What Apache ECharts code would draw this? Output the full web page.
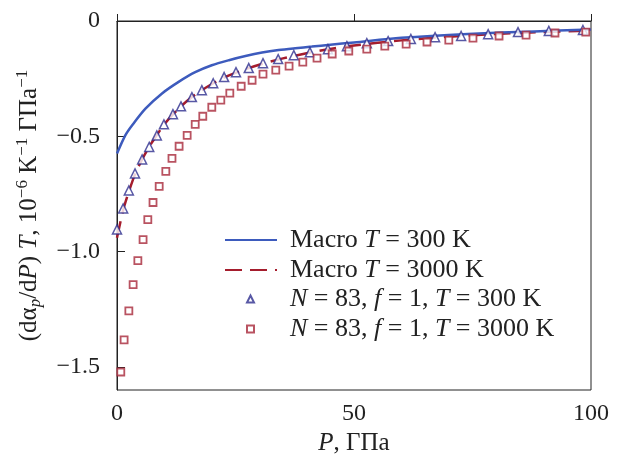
<!DOCTYPE html>
<html>
<head>
<meta charset="utf-8">
<style>
  html, body { margin: 0; padding: 0; background: #fff; }
  #main { width: 637px; height: 455px; }
</style>
<script src="https://cdn.jsdelivr.net/npm/echarts@6/dist/echarts.min.js"></script>
</head>
<body>
<div id="main"></div>
<script>
// Macro T = 300 K (solid blue)
var macro300P = [0, 1.75, 3.2, 6, 9.5, 13, 16.5, 20, 23.6, 27.1, 30.6, 34.1, 37.6, 41.1, 45, 50, 60, 74, 88, 100];
var macro300V = [-0.575, -0.496, -0.452, -0.380, -0.314, -0.264, -0.222, -0.192, -0.170, -0.152, -0.137, -0.126, -0.118, -0.111, -0.103, -0.093, -0.073, -0.056, -0.045, -0.037];

// Macro T = 3000 K (dashed red)
var macro3000P = [0, 1.3, 2.5, 3.8, 5.3, 6.8, 8.4, 9.9, 11.8, 13.5, 15.8, 17.9, 20.3, 22.6, 25, 30, 35, 40, 45, 50, 60, 70, 80, 90, 100];
var macro3000V = [-0.94, -0.82, -0.74, -0.665, -0.60, -0.545, -0.495, -0.45, -0.405, -0.37, -0.33, -0.30, -0.27, -0.245, -0.225, -0.19, -0.162, -0.14, -0.121, -0.106, -0.084, -0.068, -0.056, -0.048, -0.042];

// N = 83, f = 1, T = 300 K (triangles)
var triP = [0, 1.3, 2.5, 3.8, 5.3, 6.8, 8.4, 9.9, 11.8, 13.5, 15.8, 17.9, 20.3, 22.6, 25.1, 27.8, 30.8, 34.0, 37.3, 40.7, 44.5, 48.5, 52.7, 57.2, 62.0, 67.1, 72.6, 78.3, 84.6, 91.1, 98.3];
var triV = [-0.904, -0.813, -0.735, -0.661, -0.600, -0.546, -0.496, -0.448, -0.404, -0.370, -0.330, -0.300, -0.270, -0.243, -0.222, -0.204, -0.183, -0.165, -0.148, -0.135, -0.122, -0.109, -0.096, -0.087, -0.078, -0.070, -0.065, -0.057, -0.048, -0.043, -0.039];

// N = 83, f = 1, T = 3000 K (squares)
var sqP = [0.8, 1.5, 2.5, 3.4, 4.4, 5.5, 6.5, 7.6, 8.9, 10.3, 11.6, 13.1, 14.8, 16.5, 18.1, 20.0, 21.9, 23.8, 26.2, 28.5, 30.8, 33.5, 36.3, 39.2, 42.2, 45.4, 48.9, 52.7, 56.5, 61.0, 65.4, 70.0, 75.1, 80.6, 86.3, 92.4, 98.9];
var sqV = [-1.522, -1.383, -1.257, -1.143, -1.039, -0.948, -0.861, -0.787, -0.717, -0.652, -0.596, -0.543, -0.496, -0.448, -0.413, -0.374, -0.343, -0.313, -0.283, -0.257, -0.230, -0.213, -0.196, -0.178, -0.161, -0.143, -0.130, -0.122, -0.109, -0.100, -0.091, -0.083, -0.074, -0.065, -0.061, -0.052, -0.048];

var yTicks = [0, -0.5, -1.0, -1.5];
var xTicks = [0, 50, 100];

var names = ['Macro T = 300 K', 'Macro T = 3000 K', 'N = 83, f = 1, T = 300 K', 'N = 83, f = 1, T = 3000 K'];
var legendRich = {
  'Macro T = 300 K': 'Macro {i|T} = 300 K',
  'Macro T = 3000 K': 'Macro {i|T} = 3000 K',
  'N = 83, f = 1, T = 300 K': '{i|N} = 83, {i|f} = 1, {i|T} = 300 K',
  'N = 83, f = 1, T = 3000 K': '{i|N} = 83, {i|f} = 1, {i|T} = 3000 K'
};

function zip(xs, ys) {
  var out = [];
  for (var i = 0; i < xs.length; i++) out.push([xs[i], ys[i]]);
  return out;
}

var serif = 'Liberation Serif';
var textColor = '#222';
var noSymbol = { color: 'rgba(0,0,0,0)', borderColor: 'rgba(0,0,0,0)', borderWidth: 0 };

function legendText(padLeft) {
  return {
    fontFamily: serif, fontSize: 26, color: textColor,
    padding: [0, 0, 0, padLeft],
    rich: {
      i: { fontFamily: serif, fontSize: 26, fontStyle: 'italic', color: textColor }
    }
  };
}

var myChart = echarts.init(document.getElementById('main'));
myChart.setOption({
  animation: false,
  grid: {
    left: 117, right: 46, top: 21, bottom: 65,
    containLabel: false,
    outerBoundsMode: 'none',
    show: true, borderColor: '#222', borderWidth: 1
  },
  legend: [{
    // line items
    orient: 'vertical',
    left: 219,
    top: 222,
    itemWidth: 52,
    itemHeight: 7,
    itemGap: 4,
    data: [
      { name: names[0], itemStyle: noSymbol },
      { name: names[1], itemStyle: noSymbol }
    ],
    formatter: function (n) { return legendRich[n]; },
    textStyle: legendText(8)
  }, {
    // marker items
    orient: 'vertical',
    left: 241,
    top: 281,
    itemWidth: 7,
    itemHeight: 7,
    itemGap: 4,
    data: [names[2], names[3]],
    formatter: function (n) { return legendRich[n]; },
    textStyle: legendText(31)
  }],
  xAxis: {
    type: 'value',
    min: 0, max: 100, interval: 50,
    name: '{i|P}, ГПа',
    nameLocation: 'middle',
    nameGap: 27,
    nameTextStyle: {
      fontFamily: serif, fontSize: 25, color: textColor,
      rich: { i: { fontFamily: serif, fontSize: 25, fontStyle: 'italic', color: textColor } }
    },
    axisLine: { lineStyle: { color: '#222', width: 1 } },
    axisTick: { inside: true, length: 7, lineStyle: { color: '#222' } },
    axisLabel: {
      fontFamily: serif, fontSize: 24, color: textColor, margin: 12,
      customValues: xTicks
    },
    splitLine: { show: false }
  },
  yAxis: {
    type: 'value',
    min: -1.6, max: 0,
    name: '(dα{sub|p}/d{i|P}) {i|T}, 10{sup|−6} K{sup|−1} ГПа{sup|−1}',
    nameLocation: 'middle',
    nameGap: 73,
    nameRotate: 90,
    nameTextStyle: {
      fontFamily: serif, fontSize: 25, color: textColor,
      rich: {
        i: { fontFamily: serif, fontSize: 25, fontStyle: 'italic', color: textColor },
        sub: { fontFamily: serif, fontSize: 17, fontStyle: 'italic', color: textColor, verticalAlign: 'bottom', lineHeight: 30 },
        sup: { fontFamily: serif, fontSize: 17, color: textColor, verticalAlign: 'top', lineHeight: 30 }
      }
    },
    axisLine: { lineStyle: { color: '#222', width: 1 } },
    axisTick: { inside: true, length: 8, lineStyle: { color: '#222' }, customValues: yTicks },
    axisLabel: {
      fontFamily: serif, fontSize: 24, color: textColor, margin: 17,
      customValues: yTicks,
      formatter: function (v) {
        if (v === 0) return '0';
        return '\u2212' + Math.abs(v).toFixed(1);
      }
    },
    splitLine: { show: false }
  },
  series: [{
    name: names[0],
    type: 'line',
    data: zip(macro300P, macro300V),
    smooth: 0.3,
    symbol: 'none',
    lineStyle: { color: '#3d5bbd', width: 2.5 },
    itemStyle: { color: '#3d5bbd' },
    z: 3
  }, {
    name: names[1],
    type: 'line',
    data: zip(macro3000P, macro3000V),
    smooth: 0.3,
    symbol: 'none',
    lineStyle: { color: '#a51d2d', width: 2.5, type: [17, 8] },
    itemStyle: { color: '#a51d2d' },
    z: 2
  }, {
    name: names[2],
    type: 'scatter',
    data: zip(triP, triV),
    symbol: 'triangle',
    symbolSize: 9,
    itemStyle: { color: '#fff', borderColor: '#2e2e8e', borderWidth: 1.5 },
    z: 4
  }, {
    name: names[3],
    type: 'scatter',
    data: zip(sqP, sqV),
    symbol: 'rect',
    symbolSize: 7,
    itemStyle: { color: '#fff', borderColor: '#a8283a', borderWidth: 1.8 },
    z: 4
  }]
});
</script>
</body>
</html>
